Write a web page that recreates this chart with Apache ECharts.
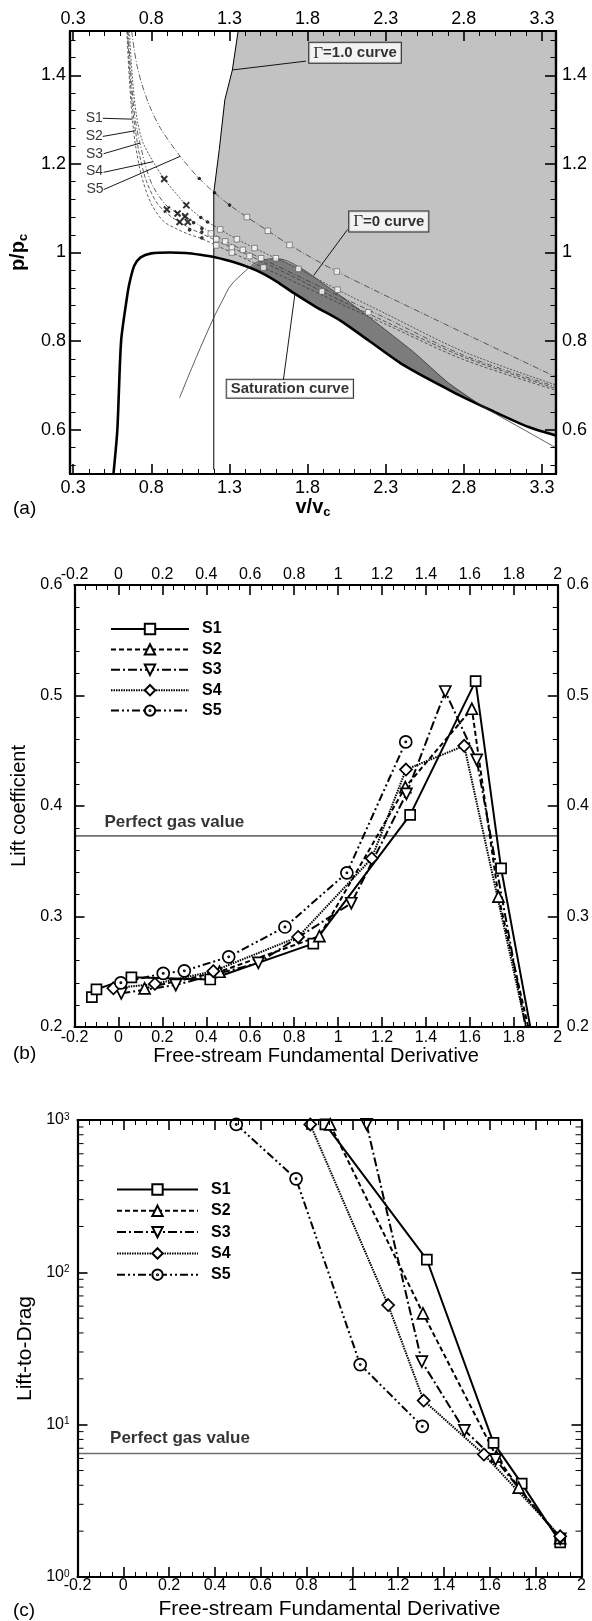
<!DOCTYPE html>
<html><head><meta charset="utf-8">
<script src="https://cdn.jsdelivr.net/npm/echarts@6/dist/echarts.min.js"></script>
<style>html,body{margin:0;padding:0;background:#fff}#c{width:592px;height:1621px}</style>
</head><body><div id="c"></div>
<script>
// ================= Panel (a): v/vc vs p/pc =================
const satCurve = [[0.558,0.5],[0.583,0.6],[0.607,0.8],[0.643,0.895],[0.66,0.93],[0.691,0.97],[0.732,0.989],[0.8,0.998],[0.92,1.0],[1.02,0.999],[1.114,0.995],[1.2,0.99],[1.331,0.978],[1.476,0.959],[1.6,0.935],[1.718,0.907],[1.85,0.878],[2.008,0.847],[2.189,0.802],[2.418,0.745],[2.732,0.685],[2.974,0.644],[3.215,0.606],[3.39,0.587]];
const gamma1Curve = [[1.356,1.5],[1.319,1.412],[1.271,1.345],[1.235,1.232],[1.2,1.135],[1.2,0.51]];
const gamma0Curve = [[0.981,0.672],[1.09,0.765],[1.2,0.853],[1.259,0.894],[1.307,0.925],[1.404,0.959],[1.476,0.978],[1.573,0.986],[1.633,0.985],[1.766,0.963],[1.887,0.933],[2.008,0.903],[2.153,0.865],[2.3,0.825],[2.49,0.772],[2.7,0.706],[2.93,0.651],[3.2,0.597],[3.39,0.559]];
const darkTop = [[1.43,0.966],[1.5,0.981],[1.573,0.986],[1.633,0.985],[1.766,0.963],[1.887,0.933],[2.008,0.903],[2.153,0.865],[2.3,0.825],[2.49,0.772],[2.7,0.706],[2.93,0.651]];
const isoS1 = [[0.644,1.5],[0.652,1.44],[0.662,1.38],[0.672,1.33],[0.679,1.301],[0.70,1.24],[0.74,1.17],[0.80,1.11],[0.88,1.07],[0.97,1.052],[1.034,1.042],[1.124,1.031],[1.216,1.016],[1.316,1.0],[1.518,0.966],[1.75,0.928],[2.0,0.886],[2.3,0.838],[2.8,0.758],[3.39,0.689]];
const isoS2 = [[0.648,1.5],[0.657,1.44],[0.668,1.38],[0.682,1.32],[0.699,1.275],[0.725,1.22],[0.77,1.16],[0.84,1.11],[0.93,1.08],[0.981,1.069],[1.045,1.055],[1.124,1.042],[1.216,1.027],[1.316,1.011],[1.429,0.993],[1.518,0.978],[1.75,0.938],[1.892,0.912],[2.189,0.862],[2.8,0.764],[3.39,0.693]];
const isoS3 = [[0.652,1.5],[0.662,1.44],[0.675,1.38],[0.69,1.32],[0.71,1.275],[0.728,1.247],[0.76,1.2],[0.81,1.15],[0.9,1.105],[1.017,1.08],[1.124,1.058],[1.181,1.045],[1.273,1.026],[1.386,1.006],[1.503,0.987],[1.75,0.945],[2.0,0.902],[2.3,0.852],[2.8,0.768],[3.39,0.697]];
const isoS4 = [[0.66,1.5],[0.672,1.43],[0.688,1.36],[0.71,1.3],[0.745,1.25],[0.812,1.205],[0.883,1.166],[1.024,1.107],[1.117,1.079],[1.16,1.069],[1.241,1.052],[1.348,1.03],[1.461,1.01],[1.597,0.987],[1.742,0.963],[1.992,0.916],[2.3,0.862],[2.8,0.776],[3.39,0.701]];
const isoS5 = [[0.675,1.5],[0.69,1.46],[0.71,1.42],[0.74,1.38],[0.79,1.33],[0.86,1.28],[0.985,1.217],[1.107,1.167],[1.205,1.135],[1.301,1.107],[1.412,1.08],[1.546,1.049],[1.685,1.017],[1.988,0.957],[2.563,0.858],[3.39,0.719]];
const crossPts = [[0.883,1.166],[1.024,1.107],[0.9,1.097],[0.968,1.088],[1.017,1.082],[0.981,1.069],[1.034,1.069]];
const dotPts = [[1.107,1.167],[1.205,1.135],[1.301,1.107],[1.117,1.079],[1.16,1.069],[1.071,1.067],[1.124,1.054],[1.124,1.046],[1.045,1.051],[1.124,1.033]];
const squarePts = [[1.412,1.08],[1.546,1.049],[1.685,1.017],[1.988,0.957],[1.241,1.052],[1.348,1.03],[1.461,1.01],[1.597,0.987],[1.742,0.963],[1.992,0.916],[1.181,1.043],[1.216,1.03],[1.273,1.025],[1.316,1.011],[1.216,1.016],[1.316,1.0],[1.386,1.006],[1.429,0.992],[1.503,0.987],[1.518,0.966],[1.892,0.912],[2.189,0.865]];
const aTicksX = [0.3,0.8,1.3,1.8,2.3,2.8,3.3];
const aTicksY = [0.6,0.8,1,1.2,1.4];
const isoNames = ['S1','S2','S3','S4','S5'];

// ================= Panel (b): lift coefficient =================
const clS1 = [[-0.121,0.227],[-0.1,0.234],[0.059,0.245],[0.418,0.243],[0.887,0.2755],[1.328,0.392],[1.626,0.513],[1.742,0.3435],[1.9,0.173]];
const clS2 = [[0.119,0.235],[0.46,0.25],[0.915,0.2822],[1.306,0.417],[1.609,0.488],[1.73,0.318],[1.9,0.17]];
const clS3 = [[0.013,0.2305],[0.261,0.238],[0.637,0.258],[1.06,0.312],[1.311,0.411],[1.488,0.5036],[1.631,0.4417],[1.9,0.15]];
const clS4 = [[-0.023,0.235],[0.166,0.239],[0.432,0.2505],[0.818,0.2815],[1.153,0.3526],[1.309,0.433],[1.574,0.4545],[1.9,0.16]];
const clS5 = [[0.011,0.24],[0.204,0.2485],[0.3,0.2508],[0.502,0.2635],[0.758,0.2905],[1.04,0.3395],[1.308,0.458]];
const clPerfectGas = 0.373;

// ================= Panel (c): lift-to-drag =================
const ldS1 = [[0.882,935],[1.325,121],[1.616,7.6],[1.739,4.1],[1.907,1.69]];
const ldS2 = [[0.903,935],[1.308,53.8],[1.628,6.2],[1.726,3.86],[1.907,1.8]];
const ldS3 = [[1.062,935],[1.303,25.9],[1.489,9.18],[1.625,5.9],[1.907,1.78]];
const ldS4 = [[0.816,935],[1.156,61],[1.311,14.4],[1.574,6.37],[1.907,1.85]];
const ldS5 = [[0.493,935],[0.754,411],[1.034,24.8],[1.305,9.75]];
const ldPerfectGas = 6.46;
const logMinor = [2,3,4,5,6,7,8,9,20,30,40,50,60,70,80,90,200,300,400,500,600,700,800,900];

// ---------------------------------------------------------------
const FONT = 'Liberation Sans';
const A = {x0:0.28, x1:3.39, y0:0.5, y1:1.5};
const B = {x0:-0.2, x1:2, y0:0.2, y1:0.6};
const C = {x0:-0.2, x1:2, y0:1, y1:1000};

function minorVals(lo, hi, step, majors){
  const out=[]; const n=Math.round((hi-lo)/step);
  for(let i=0;i<=n;i++){const v=Math.round((lo+i*step)*1000)/1000; if(!majors.some(m=>Math.abs(m-v)<1e-6)) out.push(v);}
  return out;
}
const aMinorX = minorVals(0.3, 3.3, 0.1, aTicksX);
const aMinorY = minorVals(0.52, 1.48, 0.04, aTicksY);

const lineBlack = {color:'#000', width:2.2};
function customAxis(grid, pos, mn, mx, vals, len, labels, fs, margin, extra){
  return Object.assign({type:'value', gridIndex:grid, position:pos, min:mn, max:mx, z:10,
    axisLine:{show:true, onZero:false, lineStyle:lineBlack},
    axisTick:{show:true, inside:true, length:len, customValues:vals, lineStyle:{color:'#000', width:len>7?1.6:1}},
    axisLabel:{show:labels, customValues:vals, color:'#000', fontSize:fs, fontFamily:FONT, margin:margin},
    splitLine:{show:false}}, extra||{});
}
function bcAxis(grid, pos, mn, mx, interval, minorSplit, labels, fs, margin, extra){
  return Object.assign({type:'value', gridIndex:grid, position:pos, min:mn, max:mx, interval:interval, z:10,
    axisLine:{show:true, onZero:false, lineStyle:lineBlack},
    axisTick:{show:true, inside:true, length:10, lineStyle:{color:'#000', width:1.6}},
    minorTick:{show:true, splitNumber:minorSplit, length:5, lineStyle:{color:'#000', width:1}},
    axisLabel:{show:labels, color:'#000', fontSize:fs, fontFamily:FONT, margin:margin, showMinLabel:true, showMaxLabel:true},
    splitLine:{show:false}}, extra||{});
}

const xAxes = [
  customAxis(0,'bottom',A.x0,A.x1,aTicksX,10,true,18,5,{name:'v/v{s|c}', nameLocation:'middle', nameGap:22,
      nameTextStyle:{fontSize:20, fontWeight:'bold', color:'#000', fontFamily:FONT, rich:{s:{fontSize:13, fontWeight:'bold', verticalAlign:'bottom', padding:[10,0,0,0]}}}}),
  customAxis(0,'bottom',A.x0,A.x1,aMinorX,5,false,18,5),
  customAxis(0,'top',A.x0,A.x1,aTicksX,10,true,18,3),
  customAxis(0,'top',A.x0,A.x1,aMinorX,5,false,18,3),
  bcAxis(1,'bottom',B.x0,B.x1,0.2,4,true,16,3,{name:'Free-stream Fundamental Derivative', nameLocation:'middle', nameGap:18, nameTextStyle:{fontSize:20, color:'#000', fontFamily:FONT}}),
  bcAxis(1,'top',B.x0,B.x1,0.2,4,true,16,2),
  bcAxis(2,'bottom',C.x0,C.x1,0.2,4,true,16,1,{name:'Free-stream Fundamental Derivative', nameLocation:'middle', nameGap:22, nameTextStyle:{fontSize:21, color:'#000', fontFamily:FONT}}),
  bcAxis(2,'top',C.x0,C.x1,0.2,4,false,16,2)
];
const logAxis = (pos, labels, extra) => Object.assign({type:'log', logBase:10, gridIndex:2, position:pos, min:C.y0, max:C.y1, z:10,
  axisLine:{show:true, onZero:false, lineStyle:lineBlack},
  axisTick:{show:true, inside:true, length:10, lineStyle:{color:'#000', width:1.6}},
  minorTick:{show:false},
  axisLabel:{show:labels, color:'#000', fontSize:16, fontFamily:FONT, margin:8,
    formatter: v => '10{sup|' + Math.round(Math.log10(v)) + '}',
    rich:{sup:{fontSize:10, verticalAlign:'top', fontFamily:FONT, color:'#000'}}},
  splitLine:{show:false}}, extra||{});
const yAxes = [
  customAxis(0,'left',A.y0,A.y1,aTicksY,11,true,18,4,{name:'p/p{s|c}', nameLocation:'middle', nameGap:34, nameRotate:90,
      nameTextStyle:{fontSize:20, fontWeight:'bold', color:'#000', fontFamily:FONT, rich:{s:{fontSize:13, fontWeight:'bold', verticalAlign:'bottom', padding:[10,0,0,0]}}}}),
  customAxis(0,'left',A.y0,A.y1,aMinorY,5.5,false,18,4),
  customAxis(0,'right',A.y0,A.y1,aTicksY,11,true,18,6),
  customAxis(0,'right',A.y0,A.y1,aMinorY,5.5,false,18,6),
  bcAxis(1,'left',B.y0,B.y1,0.1,5,true,16,12,{name:'Lift coefficient', nameLocation:'middle', nameGap:38, nameRotate:90, nameTextStyle:{fontSize:20, color:'#000', fontFamily:FONT}}),
  bcAxis(1,'right',B.y0,B.y1,0.1,5,true,16,9),
  logAxis('left', true, {name:'Lift-to-Drag', nameLocation:'middle', nameGap:40, nameRotate:90, nameTextStyle:{fontSize:21, color:'#000', fontFamily:FONT}}),
  logAxis('right', false)
];

// ---------- series ----------
function poly(points, color, z){
  return {type:'custom', xAxisIndex:0, yAxisIndex:0, z:z, silent:true, clip:true,
    data:[points[0]],
    renderItem:(params, api)=>({type:'polygon', shape:{points:points.map(p=>api.coord(p))}, style:{fill:color}})};
}
const grayPoly = gamma1Curve.filter(p=>p[1]>=1.135).concat(satCurve.filter(p=>p[0]>=1.2)).concat([[A.x1,A.y1]]);
const darkPoly = darkTop.concat(satCurve.filter(p=>p[0]>1.43 && p[0]<2.93).reverse());

const series = [];
series.push(poly(grayPoly,'#c2c2c2',1));
series.push(poly(darkPoly,'#7c7c7c',1));
const isoDash = [[3,2],[4,2],[5,2,1,2],[2,1.5],[6,2,1,2]];
[isoS1,isoS2,isoS3,isoS4,isoS5].forEach((d,i)=>{
  series.push({type:'line', name:'iso'+isoNames[i], xAxisIndex:0, yAxisIndex:0, data:d, showSymbol:false, symbol:'none', smooth:0.3, z:3, silent:true,
    lineStyle:{color:'#3a3a3a', width:0.8, type:isoDash[i]}});
});
series.push({type:'line', name:'sat', xAxisIndex:0, yAxisIndex:0, data:satCurve, symbol:'none', smooth:0.25, z:4, silent:true, lineStyle:{color:'#000', width:2.6}});
series.push({type:'line', name:'g1', xAxisIndex:0, yAxisIndex:0, data:gamma1Curve, symbol:'none', smooth:false, z:4, silent:true, lineStyle:{color:'#000', width:1}});
series.push({type:'line', name:'g0', xAxisIndex:0, yAxisIndex:0, data:gamma0Curve, symbol:'none', smooth:0.3, z:4, silent:true, lineStyle:{color:'#333', width:0.8}});
series.push({type:'scatter', xAxisIndex:0, yAxisIndex:0, data:squarePts, symbol:'rect', symbolSize:5.5, z:5, silent:true, itemStyle:{color:'#fff', borderColor:'#555', borderWidth:0.8}});
series.push({type:'scatter', xAxisIndex:0, yAxisIndex:0, data:dotPts, symbol:'circle', symbolSize:3.6, z:5, silent:true, itemStyle:{color:'#000'}});
series.push({type:'scatter', xAxisIndex:0, yAxisIndex:0, data:crossPts, symbol:'path://M0,0L10,10M10,0L0,10', symbolSize:6, z:5, silent:true, itemStyle:{color:'transparent', borderColor:'#000', borderWidth:2}});
// leader lines
series.push({type:'lines', coordinateSystem:'cartesian2d', xAxisIndex:0, yAxisIndex:0, z:5, silent:true, lineStyle:{color:'#000', width:0.9, opacity:1},
  data:[
    {coords:[[1.79,1.432],[1.319,1.412]]},
    {coords:[[2.056,1.052],[1.839,0.948]]},
    {coords:[[1.645,0.711],[1.72,0.908]]},
    {coords:[[0.49,1.303],[0.679,1.301]]},
    {coords:[[0.49,1.262],[0.699,1.275]]},
    {coords:[[0.495,1.223],[0.728,1.247]]},
    {coords:[[0.495,1.181],[0.812,1.205]]},
    {coords:[[0.495,1.142],[0.985,1.217]]}
  ]});
// boxed annotations
series.push({type:'scatter', xAxisIndex:0, yAxisIndex:0, symbolSize:1, z:7, silent:true, itemStyle:{color:'transparent'},
  label:{show:true, position:'inside', color:'#000', fontFamily:FONT, fontWeight:'bold', fontSize:15, backgroundColor:'#fff', borderColor:'#000', borderWidth:1, padding:[2,4,1,4],
    rich:{g:{fontFamily:'Liberation Serif', fontSize:17, fontWeight:'normal', color:'#000'}}},
  data:[
    {value:[2.104,1.451], label:{formatter:'{g|Γ}=1.0 curve'}},
    {value:[2.32,1.07], label:{formatter:'{g|Γ}=0 curve'}},
    {value:[1.687,0.6925], label:{formatter:'Saturation curve'}}
  ]});
series.push({type:'scatter', xAxisIndex:0, yAxisIndex:0, symbolSize:1, z:7, silent:true, itemStyle:{color:'transparent'},
  label:{show:true, position:'inside', color:'#000', fontFamily:FONT, fontSize:14, formatter:p=>p.name},
  data:[
    {name:'S1', value:[0.435,1.303]},{name:'S2', value:[0.435,1.262]},{name:'S3', value:[0.437,1.223]},
    {name:'S4', value:[0.437,1.183]},{name:'S5', value:[0.44,1.142]}
  ]});

// Panels b and c
const circDot = 'path://M0,-10A10,10,0,1,1,0,10A10,10,0,1,1,0,-10ZM0,-1A1,1,0,1,1,0,1A1,1,0,1,1,0,-1Z';
const sty = [
  {symbol:'rect', size:10, dash:'solid', rot:0},
  {symbol:'triangle', size:11, dash:[5,3], rot:0},
  {symbol:'triangle', size:11, dash:[9,3,2,3], rot:180},
  {symbol:'diamond', size:12, dash:[1.5,1], rot:0},
  {symbol:circDot, size:12, dash:[8,3,2,3,2,3], rot:0}
];
function dataSeries(name, data, i, xi, yi){
  const s = sty[i];
  return {type:'line', name:name, xAxisIndex:xi, yAxisIndex:yi, data:data, z:5, clip:true,
    symbol:s.symbol, symbolSize:s.size, symbolRotate:s.rot, showSymbol:true, showAllSymbol:true,
    lineStyle:{color:'#000', width:2, type:s.dash},
    itemStyle:{color:'#fff', borderColor:'#000', borderWidth:1.7}};
}
[clS1,clS2,clS3,clS4,clS5].forEach((d,i)=>series.push(dataSeries(isoNames[i], d, i, 4, 4)));
[ldS1,ldS2,ldS3,ldS4,ldS5].forEach((d,i)=>series.push(dataSeries(isoNames[i], d, i, 6, 6)));
series.push({type:'line', xAxisIndex:4, yAxisIndex:4, data:[[B.x0,clPerfectGas],[B.x1,clPerfectGas]], symbol:'none', z:3, silent:true, lineStyle:{color:'#707070', width:1.6}});
series.push({type:'line', xAxisIndex:6, yAxisIndex:6, data:[[C.x0,ldPerfectGas],[C.x1,ldPerfectGas]], symbol:'none', z:3, silent:true, lineStyle:{color:'#707070', width:1.6}});
const pgLabel = {show:true, position:'right', distance:0, color:'#000', fontFamily:FONT, fontWeight:'bold', fontSize:17, formatter:'Perfect gas value'};
series.push({type:'scatter', xAxisIndex:4, yAxisIndex:4, symbolSize:1, z:7, silent:true, itemStyle:{color:'transparent'}, label:pgLabel, data:[[-0.066,0.385]]});
series.push({type:'scatter', xAxisIndex:6, yAxisIndex:6, symbolSize:1, z:7, silent:true, itemStyle:{color:'transparent'}, label:pgLabel, data:[[-0.06,8.1]]});
// log minor ticks for panel c
series.push({type:'custom', xAxisIndex:6, yAxisIndex:6, z:11, silent:true, clip:false,
  data:logMinor.map(v=>[C.x0, v]),
  renderItem:(params, api)=>{
    const v = api.value(1);
    const pl = api.coord([C.x0, v]), pr = api.coord([C.x1, v]);
    return {type:'group', children:[
      {type:'line', shape:{x1:pl[0], y1:pl[1], x2:pl[0]+6, y2:pl[1]}, style:{stroke:'#000', lineWidth:1}},
      {type:'line', shape:{x1:pr[0]-6, y1:pr[1], x2:pr[0], y2:pr[1]}, style:{stroke:'#000', lineWidth:1}}
    ]};
  }});

const legendBase = {orient:'vertical', itemHeight:13, data:isoNames, selectedMode:false,
  textStyle:{fontFamily:FONT, fontWeight:'bold', fontSize:16, color:'#000'}};
const option = {
  animation:false,
  backgroundColor:'#fff',
  textStyle:{fontFamily:FONT},
  grid:[
    {left:70, top:31, width:486, height:443},
    {left:74.5, top:585, width:483.5, height:442},
    {left:77.5, top:1120, width:504, height:459}
  ],
  xAxis:xAxes, yAxis:yAxes,
  legend:[
    Object.assign({}, legendBase, {left:105, top:616, itemWidth:78, itemGap:4.4, textStyle:Object.assign({}, legendBase.textStyle, {padding:[0,0,0,8]})}),
    Object.assign({}, legendBase, {left:111, top:1176.5, itemWidth:81, itemGap:5.3, textStyle:Object.assign({}, legendBase.textStyle, {padding:[0,0,0,8]})})
  ],
  graphic:[
    {type:'text', left:13, top:499, style:{text:'(a)', fontSize:19, fontFamily:FONT, fill:'#000'}},
    {type:'text', left:13, top:1044, style:{text:'(b)', fontSize:19, fontFamily:FONT, fill:'#000'}},
    {type:'text', left:13, top:1601, style:{text:'(c)', fontSize:19, fontFamily:FONT, fill:'#000'}}
  ],
  series:series
};
const chart = echarts.init(document.getElementById('c'), null, {renderer:'canvas'});
chart.setOption(option);
</script></body></html>
